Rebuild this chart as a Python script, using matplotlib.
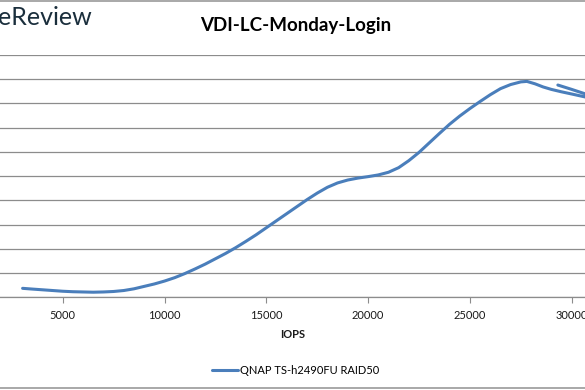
import matplotlib.pyplot as plt
from matplotlib.patches import Rectangle

plt.rcParams["font.family"] = ["Lato", "DejaVu Sans"]

# IOPS vs latency (y in gridline units)
iops = [3030, 3500, 4000, 4500, 5000, 5500, 6000, 6500, 7000, 7500,
        8000, 8500, 9000, 9500, 10000, 10500, 11000, 11500, 12000, 12500,
        13000, 13500, 14000, 14500, 15000, 15500, 16000, 16500, 17000,
        17500, 18000, 18500, 19000, 19500, 20000, 20500, 21000, 21500,
        22000, 22500, 23000, 23500, 24000, 24500, 25000, 25500, 26000,
        26500, 27000, 27500, 27800, 28200, 28600, 29000, 29500, 30000,
        30650, 31300, 30650, 30000, 29320]
latency = [0.37, 0.34, 0.31, 0.28, 0.25, 0.23, 0.22, 0.21, 0.22, 0.24,
           0.28, 0.35, 0.45, 0.55, 0.67, 0.81, 0.98, 1.17, 1.37, 1.59,
           1.81, 2.05, 2.31, 2.58, 2.87, 3.16, 3.45, 3.74, 4.03,
           4.30, 4.54, 4.72, 4.84, 4.92, 4.98, 5.05, 5.16, 5.35,
           5.64, 5.98, 6.37, 6.76, 7.14, 7.48, 7.79, 8.08, 8.36,
           8.61, 8.78, 8.89, 8.91, 8.81, 8.68, 8.58, 8.48, 8.39,
           8.27, 8.12, 8.40, 8.58, 8.76]
xticks = [5000, 10000, 15000, 20000, 25000, 30000]
series_name = "QNAP TS-h2490FU RAID50"

fig = plt.figure(figsize=(5.85, 3.9), dpi=100)
ax = fig.add_axes([0, 0.2377, 1, 0.6213])

ax.plot(iops, latency, color="#4a7ebb", linewidth=2.2,
        solid_capstyle="round", solid_joinstyle="round", label=series_name)
ax.set_xlim(1920, 30653)
ax.set_ylim(0, 10)
ax.set_yticks(range(0, 11))
ax.yaxis.grid(True, color="#8c8c8c", linewidth=0.9)
ax.set_axisbelow(True)
ax.tick_params(axis="y", left=False, labelleft=False)
ax.set_xticks(xticks)
ax.set_xticklabels([str(t) for t in xticks], fontsize=8, color="#1a1a1a")
ax.tick_params(axis="x", length=4, width=0.8, color="#8c8c8c", pad=5)
for side in ["left", "right", "top"]:
    ax.spines[side].set_visible(False)
ax.spines["bottom"].set_color("#8c8c8c")
ax.spines["bottom"].set_linewidth(0.9)

ax.set_xlabel("IOPS", fontsize=8, fontweight="bold", color="#1a1a1a",
              labelpad=6)
fig.text(0.506, 0.935, "VDI-LC-Monday-Login", ha="center", va="center",
         fontsize=13.5, fontweight="bold", color="#000000")
fig.text(-0.004, 0.955, "eReview", ha="left", va="center", fontsize=18,
         color="#1a2e3c")

fig.legend(loc="center", bbox_to_anchor=(0.506, 0.051), frameon=False,
           fontsize=8, handlelength=2.3, handletextpad=0.2)

fig.patches.append(Rectangle((-0.1, 0.004), 1.2, 0.994,
                             transform=fig.transFigure, fill=False,
                             edgecolor="#9a9a9a", linewidth=1.2))

fig.savefig("out.png", dpi=100)
